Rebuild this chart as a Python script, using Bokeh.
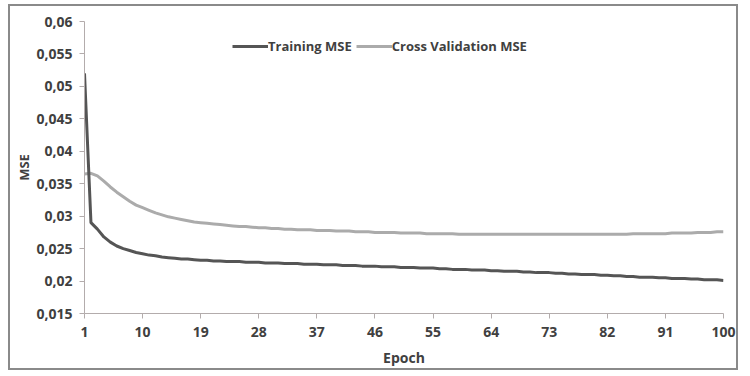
from bokeh.plotting import figure
from bokeh.models import Range1d, FixedTicker, CustomJSTickFormatter, Legend, LegendItem
from bokeh.embed import file_html
from bokeh.resources import INLINE

epochs = list(range(1, 101))

training_mse = [
    0.0520, 0.0290, 0.0280, 0.0268, 0.0260, 0.0254, 0.0250, 0.0247, 0.0244, 0.0242,
    0.0240, 0.0239, 0.0237, 0.0236, 0.0235, 0.0234, 0.0234, 0.0233, 0.0232, 0.0232,
    0.0231, 0.0231, 0.0230, 0.0230, 0.0230, 0.0229, 0.0229, 0.0229, 0.0228, 0.0228,
    0.0228, 0.0227, 0.0227, 0.0227, 0.0226, 0.0226, 0.0226, 0.0225, 0.0225, 0.0225,
    0.0224, 0.0224, 0.0224, 0.0223, 0.0223, 0.0223, 0.0222, 0.0222, 0.0222, 0.0221,
    0.0221, 0.0221, 0.0220, 0.0220, 0.0220, 0.0219, 0.0219, 0.0218, 0.0218, 0.0218,
    0.0217, 0.0217, 0.0217, 0.0216, 0.0216, 0.0215, 0.0215, 0.0215, 0.0214, 0.0214,
    0.0213, 0.0213, 0.0213, 0.0212, 0.0212, 0.0211, 0.0211, 0.0210, 0.0210, 0.0210,
    0.0209, 0.0209, 0.0208, 0.0208, 0.0207, 0.0207, 0.0206, 0.0206, 0.0206, 0.0205,
    0.0205, 0.0204, 0.0204, 0.0204, 0.0203, 0.0203, 0.0202, 0.0202, 0.0202, 0.0201,
]

cv_mse = [
    0.0365, 0.0366, 0.0362, 0.0354, 0.0345, 0.0337, 0.0330, 0.0323, 0.0317, 0.0313,
    0.0309, 0.0305, 0.0302, 0.0299, 0.0297, 0.0295, 0.0293, 0.0291, 0.0290, 0.0289,
    0.0288, 0.0287, 0.0286, 0.0285, 0.0284, 0.0284, 0.0283, 0.0282, 0.0282, 0.0281,
    0.0281, 0.0280, 0.0280, 0.0279, 0.0279, 0.0279, 0.0278, 0.0278, 0.0278, 0.0277,
    0.0277, 0.0277, 0.0276, 0.0276, 0.0276, 0.0275, 0.0275, 0.0275, 0.0275, 0.0274,
    0.0274, 0.0274, 0.0274, 0.0273, 0.0273, 0.0273, 0.0273, 0.0273, 0.0272, 0.0272,
    0.0272, 0.0272, 0.0272, 0.0272, 0.0272, 0.0272, 0.0272, 0.0272, 0.0272, 0.0272,
    0.0272, 0.0272, 0.0272, 0.0272, 0.0272, 0.0272, 0.0272, 0.0272, 0.0272, 0.0272,
    0.0272, 0.0272, 0.0272, 0.0272, 0.0272, 0.0273, 0.0273, 0.0273, 0.0273, 0.0273,
    0.0273, 0.0274, 0.0274, 0.0274, 0.0274, 0.0275, 0.0275, 0.0275, 0.0276, 0.0276,
]

x_ticks = [1, 10, 19, 28, 37, 46, 55, 64, 73, 82, 91, 100]
y_ticks = [0.015, 0.02, 0.025, 0.03, 0.035, 0.04, 0.045, 0.05, 0.055, 0.06]

FONT = "Open Sans"
TXT = "#404040"

p = figure(width=730, height=366, output_backend="svg", toolbar_location=None,
           x_range=Range1d(1, 100), y_range=Range1d(0.015, 0.06),
           min_border_left=74, min_border_right=17, min_border_top=15, min_border_bottom=59)
p.styles = {"border": "2px solid #8a8a8a", "margin-left": "8px", "margin-top": "4px"}
p.outline_line_color = None
p.grid.visible = False
p.background_fill_color = "white"
p.border_fill_color = "white"

r_cv = p.line(epochs, cv_mse, line_color="#ababab", line_width=3)
r_tr = p.line(epochs, training_mse, line_color="#555555", line_width=3)

for ax in (p.xaxis[0], p.yaxis[0]):
    ax.axis_line_color = "#b3acac"
    ax.major_tick_line_color = "#b3acac"
    ax.minor_tick_line_color = None
    ax.major_tick_in = 0
    ax.major_tick_out = 5
    ax.major_label_text_font = FONT
    ax.major_label_text_font_size = "14px"
    ax.major_label_text_font_style = "bold"
    ax.major_label_text_color = TXT
    ax.axis_label_text_font = FONT
    ax.axis_label_text_font_size = "14px"
    ax.axis_label_text_font_style = "bold"
    ax.axis_label_text_color = TXT

p.yaxis[0].axis_label_text_font_size = "13px"
p.xaxis[0].ticker = FixedTicker(ticks=x_ticks)
p.yaxis[0].ticker = FixedTicker(ticks=y_ticks)
p.yaxis[0].formatter = CustomJSTickFormatter(code="return tick.toString().replace('.', ',');")
p.xaxis[0].axis_label = "Epoch"
p.yaxis[0].axis_label = "MSE"
p.xaxis[0].major_label_standoff = 8
p.yaxis[0].major_label_standoff = 7
p.xaxis[0].axis_label_standoff = 8
p.yaxis[0].axis_label_standoff = 0

legend = Legend(items=[LegendItem(label="Training MSE", renderers=[r_tr]),
                       LegendItem(label="Cross Validation MSE", renderers=[r_cv])],
                orientation="horizontal", location=(148, 258),
                glyph_width=36, glyph_height=16, label_standoff=0, spacing=4,
                padding=0, margin=0, border_line_color=None, background_fill_alpha=0,
                label_text_font=FONT, label_text_font_size="13px",
                label_text_font_style="bold", label_text_color=TXT,
                label_height=16)
p.add_layout(legend, "center")

open("out.html", "w").write(file_html(p, INLINE))
